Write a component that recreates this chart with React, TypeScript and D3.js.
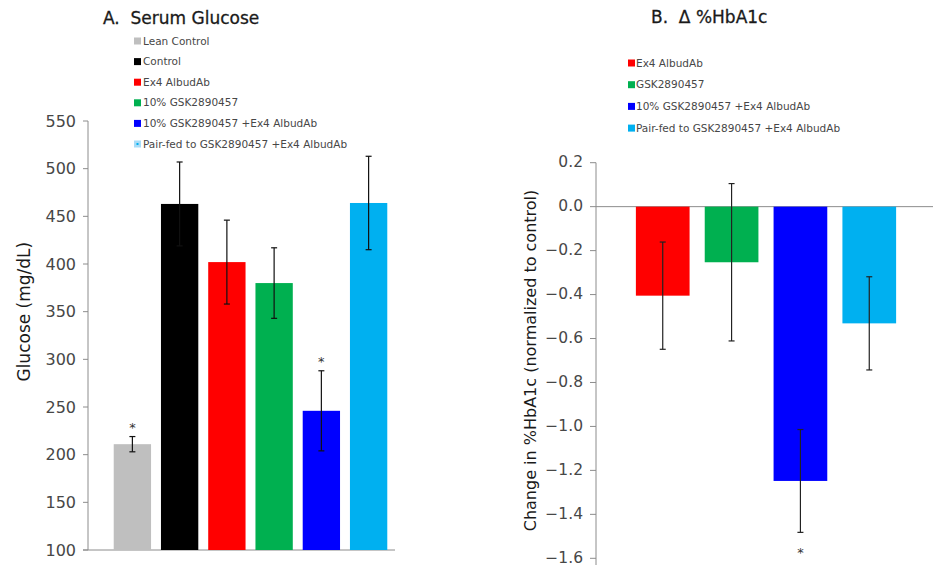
import React from 'react';
import * as d3 from 'd3';

// Panel A: serum glucose
const glucoseGroups = ['Lean Control', 'Control', 'Ex4 AlbudAb', '10% GSK2890457', '10% GSK2890457 +Ex4 AlbudAb', 'Pair-fed to GSK2890457 +Ex4 AlbudAb'];
const glucoseValues = [211, 463, 402, 380, 246, 464];
const glucoseErrors = [8, 44, 44, 37, 42, 49];
const glucoseSig = [true, false, false, false, true, false];
const glucoseColors = ['#bfbfbf', '#000000', '#ff0000', '#00b050', '#0000ff', '#00b0f0'];
const glucoseTicks = [100, 150, 200, 250, 300, 350, 400, 450, 500, 550];

// Panel B: change in HbA1c
const hbGroups = ['Ex4 AlbudAb', 'GSK2890457', '10% GSK2890457 +Ex4 AlbudAb', 'Pair-fed to GSK2890457 +Ex4 AlbudAb'];
const hbValues = [-0.405, -0.253, -1.248, -0.531];
const hbErrors = [0.244, 0.358, 0.234, 0.212];
const hbSig = [false, false, true, false];
const hbColors = ['#ff0000', '#00b050', '#0000ff', '#00b0f0'];
const hbTicks = [0.2, 0.0, -0.2, -0.4, -0.6, -0.8, -1.0, -1.2, -1.4, -1.6];

const FONT = '"DejaVu Sans", Verdana, sans-serif';
const AXIS = '#8c8c8c';
const TICKTXT = '#474747';

const App = () => {
  const xA = d3.scaleBand<string>().domain(glucoseGroups).range([109, 392]).paddingInner(0.21).paddingOuter(0.1);
  const yA = d3.scaleLinear().domain([100, 550]).range([550, 121]);

  const xB = d3.scaleBand<string>().domain(hbGroups).range([629, 903]).paddingInner(0.22).paddingOuter(0.1);
  const yB = d3.scaleLinear().domain([-1.6, 0.2]).range([558.3, 162.7]);

  const cap = 3;

  return (
    <svg width={933} height={565} style={{ position: 'absolute', left: 0, top: 0, background: '#fff' }} fontFamily={FONT}>
      {/* ---------- Panel A ---------- */}
      <text x={103} y={24} fontSize={17} fill="#1a1a1a" stroke="#1a1a1a" strokeWidth={0.3} style={{ whiteSpace: 'pre' }}>A.  Serum Glucose</text>
      {glucoseGroups.map((g, i) => (
        <g key={g} transform={`translate(134, ${41 + i * 20.6})`}>
          <rect x={0} y={-3.5} width={7} height={7} fill={i === 5 ? '#a8dcf7' : glucoseColors[i]} />
          {i === 5 && <rect x={2.5} y={-1} width={2} height={2} fill="#00b0f0" />}
          <text x={9} y={0} dy="0.35em" fontSize={10.5} fill={TICKTXT}>{g}</text>
        </g>
      ))}

      <line x1={88} x2={88} y1={yA(550)} y2={yA(100)} stroke={AXIS} />
      <line x1={83} x2={395} y1={yA(100)} y2={yA(100)} stroke={AXIS} />
      {glucoseTicks.map(t => (
        <g key={t} transform={`translate(0, ${yA(t)})`}>
          <line x1={83} x2={88} stroke={AXIS} />
          <text x={76} dy="0.36em" textAnchor="end" fontSize={16} fill={TICKTXT}>{t}</text>
        </g>
      ))}
      <text transform={`translate(30, ${yA(350)}) rotate(-90)`} textAnchor="middle" fontSize={17} fill="#1a1a1a">Glucose (mg/dL)</text>

      {glucoseGroups.map((g, i) => {
        const x = xA(g)!;
        const w = xA.bandwidth();
        const cx = x + w / 2;
        const hi = yA(glucoseValues[i] + glucoseErrors[i]);
        const lo = yA(glucoseValues[i] - glucoseErrors[i]);
        return (
          <g key={g}>
            <rect x={x} y={yA(glucoseValues[i])} width={w} height={yA(100) - yA(glucoseValues[i])} fill={glucoseColors[i]} />
            <line x1={cx} x2={cx} y1={hi} y2={lo} stroke="#111" strokeWidth={1.2} />
            <line x1={cx - cap} x2={cx + cap} y1={hi} y2={hi} stroke="#111" strokeWidth={1.2} />
            <line x1={cx - cap} x2={cx + cap} y1={lo} y2={lo} stroke="#111" strokeWidth={1.2} />
            {glucoseSig[i] && <text x={cx} y={hi - 14} dy="0.7em" textAnchor="middle" fontSize={13} fill="#333">*</text>}
          </g>
        );
      })}

      {/* ---------- Panel B ---------- */}
      <text x={651} y={23} fontSize={17} fill="#1a1a1a" stroke="#1a1a1a" strokeWidth={0.3} style={{ whiteSpace: 'pre' }}>B.  Δ %HbA1c</text>
      {hbGroups.map((g, i) => (
        <g key={g} transform={`translate(628, ${63 + i * 21.7})`}>
          <rect x={0} y={-3.5} width={7} height={7} fill={hbColors[i]} />
          <text x={8} y={0} dy="0.35em" fontSize={10.5} fill={TICKTXT}>{g}</text>
        </g>
      ))}

      <line x1={596} x2={596} y1={yB(0.2)} y2={565} stroke={AXIS} />
      <line x1={596} x2={933} y1={yB(0)} y2={yB(0)} stroke={AXIS} />
      {hbTicks.map(t => (
        <g key={t} transform={`translate(0, ${yB(t)})`}>
          <line x1={590} x2={596} stroke={AXIS} />
          <text x={583} dy="0.3em" textAnchor="end" fontSize={15.5} fill={TICKTXT}>{d3.format('.1f')(t)}</text>
        </g>
      ))}
      <text transform={`translate(536, ${yB(-0.7)}) rotate(-90)`} textAnchor="middle" fontSize={16} fill="#1a1a1a">Change in %HbA1c (normalized to control)</text>

      {hbGroups.map((g, i) => {
        const x = xB(g)!;
        const w = xB.bandwidth();
        const cx = x + w / 2;
        const hi = yB(hbValues[i] + hbErrors[i]);
        const lo = yB(hbValues[i] - hbErrors[i]);
        return (
          <g key={g}>
            <rect x={x} y={yB(0)} width={w} height={yB(hbValues[i]) - yB(0)} fill={hbColors[i]} />
            <line x1={cx} x2={cx} y1={hi} y2={lo} stroke="#222" strokeWidth={1.2} />
            <line x1={cx - cap} x2={cx + cap} y1={hi} y2={hi} stroke="#222" strokeWidth={1.2} />
            <line x1={cx - cap} x2={cx + cap} y1={lo} y2={lo} stroke="#222" strokeWidth={1.2} />
            {hbSig[i] && <text x={cx} y={lo + 16} dy="0.7em" textAnchor="middle" fontSize={13} fill="#333">*</text>}
          </g>
        );
      })}
    </svg>
  );
};

export default App;
